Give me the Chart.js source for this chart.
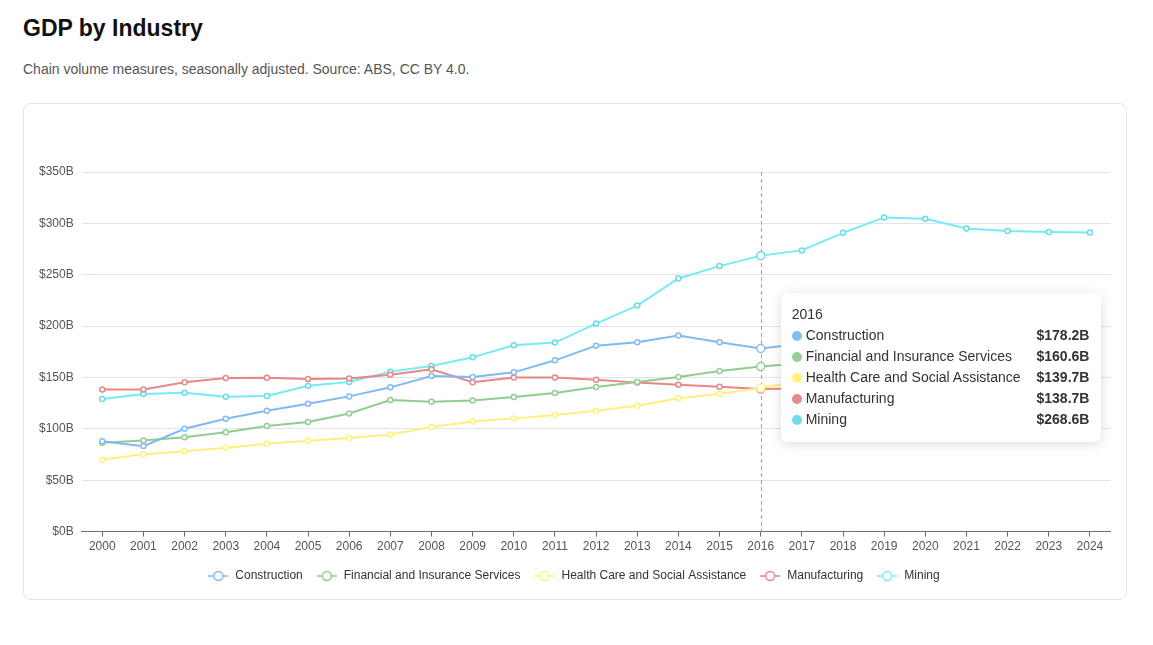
<!DOCTYPE html>
<html>
<head>
<meta charset="utf-8">
<title>GDP by Industry</title>
<script src="https://cdn.jsdelivr.net/npm/chart.js@4.4.1/dist/chart.umd.min.js"></script>
<style>
  body { margin: 0; padding: 0 23px; font-family: "Liberation Sans", Arial, Helvetica, sans-serif; color: #1a1a1a; background: #fff; }
  h1 { margin: 14px 0 0; font-size: 23px; line-height: 28px; font-weight: bold; color: #111; }
  .sub { margin: 19px 0 0; font-size: 14px; line-height: 16px; color: #555; }
  .card { margin-top: 26px; width: 1104px; height: 497px; box-sizing: border-box; border: 1px solid #e1e5ea; border-radius: 8px; padding: 16px; }
  .plot { position: relative; height: 472px; margin: 0 -6px 0 -9px; }
  #tip { position: absolute; display: none; background: #fff; border-radius: 6px; box-shadow: 0 2px 12px rgba(0,0,0,0.14); padding: 11px 12px 12px 11px; font-size: 14px; line-height: 21px; color: #333; pointer-events: none; white-space: nowrap; }
  #tip .t { color: #333; }
  #tip table { border-collapse: collapse; }
  #tip td { padding: 0; }
  #tip td.v { font-weight: bold; text-align: right; padding-left: 16px; }
  #tip .dot { display: inline-block; width: 10px; height: 10px; border-radius: 50%; margin-right: 4px; vertical-align: -1px; }
</style>
</head>
<body>
<h1>GDP by Industry</h1>
<p class="sub">Chain volume measures, seasonally adjusted. Source: ABS, CC BY 4.0.</p>
<div class="card">
  <div class="plot">
    <canvas id="gdpChart"></canvas>
    <div id="tip"></div>
  </div>
</div>
<script>
// values in $B (2017+ partly hidden under the tooltip, estimated)
const years = ['2000', '2001', '2002', '2003', '2004', '2005', '2006', '2007', '2008', '2009', '2010', '2011', '2012',
  '2013', '2014', '2015', '2016', '2017', '2018', '2019', '2020', '2021', '2022', '2023', '2024'];
const construction = [88.0, 83.2, 100.1, 109.9, 117.7, 124.5, 131.6, 140.4, 151.4, 150.4, 155.0, 166.7, 181.0,
  184.3, 190.8, 184.3, 178.2, 182.8, 189.5, 196.0, 193.1, 197.4, 201.8, 206.3, 210.5];
const financial = [86.5, 88.7, 91.9, 96.8, 102.7, 106.6, 115.0, 128.0, 126.4, 127.7, 130.9, 134.8, 140.7,
  145.6, 150.4, 156.3, 160.6, 163.9, 167.2, 171.8, 176.4, 178.9, 182.5, 185.1, 188.6];
const healthCare = [69.9, 75.4, 78.3, 81.6, 85.5, 88.4, 91.0, 94.6, 101.7, 107.2, 110.2, 113.4, 117.7,
  122.5, 129.7, 134.2, 139.7, 147.0, 154.3, 161.8, 166.5, 175.2, 186.9, 196.4, 203.8];
const manufacturing = [138.4, 138.4, 145.3, 149.5, 149.8, 148.5, 148.9, 152.7, 157.9, 145.3, 150.1, 150.1, 147.9,
  145.0, 143.0, 141.1, 138.7, 139.2, 140.6, 139.5, 136.1, 137.3, 138.8, 137.6, 137.9];
const mining = [129.0, 133.9, 135.2, 131.3, 131.9, 142.0, 145.6, 155.7, 161.2, 169.6, 181.3, 184.0, 202.5,
  220.0, 246.4, 258.4, 268.6, 273.7, 290.8, 305.8, 304.5, 295.1, 292.5, 291.5, 291.2];
const yTicks = [0, 50, 100, 150, 200, 250, 300, 350];

const seriesNames = ['Construction', 'Financial and Insurance Services', 'Health Care and Social Assistance', 'Manufacturing', 'Mining'];
const seriesData = [construction, financial, healthCare, manufacturing, mining];
const lineColors = ['#80b9f3', '#90cd8f', '#fff07e', '#e98686', '#74ebf7'];
const dotColors = ['#86bdf2', '#95cf94', '#fff283', '#e98a8a', '#6fdae8'];
const hoverYear = '2016';
const hoverValue = 160; // simulated pointer height

const fmt = v => '$' + Number(v).toFixed(1) + 'B';

// legend icon: short line with hollow circle
function legendIcon(color) {
  const c = document.createElement('canvas');
  c.width = 20; c.height = 12;
  const ctx = c.getContext('2d');
  ctx.strokeStyle = color;
  ctx.lineWidth = 1.5;
  ctx.beginPath(); ctx.moveTo(0, 6); ctx.lineTo(20, 6); ctx.stroke();
  ctx.fillStyle = '#fff';
  ctx.beginPath(); ctx.arc(10, 6, 4.5, 0, Math.PI * 2); ctx.fill(); ctx.stroke();
  return c;
}
const icons = lineColors.map(legendIcon);

const hoverLine = {
  id: 'hoverLine',
  beforeDatasetsDraw(chart) {
    const act = chart.getActiveElements();
    if (!act.length) return;
    const x = act[0].element.x;
    const { top, bottom } = chart.chartArea;
    const ctx = chart.ctx;
    ctx.save();
    ctx.strokeStyle = '#9aa3ad';
    ctx.lineWidth = 1;
    ctx.setLineDash([4, 3]);
    ctx.beginPath();
    ctx.moveTo(Math.round(x) + 0.5, top);
    ctx.lineTo(Math.round(x) + 0.5, bottom);
    ctx.stroke();
    ctx.restore();
  }
};

let pointerY = null;
function externalTip(context) {
  const { tooltip } = context;
  const el = document.getElementById('tip');
  if (tooltip.opacity === 0 || !tooltip.dataPoints || !tooltip.dataPoints.length) {
    el.style.display = 'none';
    return;
  }
  const rows = tooltip.dataPoints.map(dp =>
    `<tr><td><span class="dot" style="background:${dotColors[dp.datasetIndex]}"></span>${dp.dataset.label}</td><td class="v">${fmt(dp.raw)}</td></tr>`
  ).join('');
  el.innerHTML = `<div class="t">${tooltip.dataPoints[0].label}</div><table>${rows}</table>`;
  el.style.display = 'block';
  const y = pointerY != null ? pointerY : tooltip.caretY;
  el.style.left = (tooltip.caretX + 20) + 'px';
  el.style.top = (y - el.offsetHeight / 2) + 'px';
}

const chart = new Chart(document.getElementById('gdpChart'), {
  type: 'line',
  data: {
    labels: years,
    datasets: seriesNames.map((name, i) => ({
      label: name,
      data: seriesData[i],
      borderColor: lineColors[i],
      backgroundColor: lineColors[i],
      borderWidth: 2,
      tension: 0,
      pointRadius: 2.5,
      pointBorderWidth: 1.5,
      pointBackgroundColor: '#fff',
      pointBorderColor: dotColors[i],
      pointHoverRadius: 4,
      pointHoverBorderWidth: 1.5,
      pointHoverBackgroundColor: '#fff',
      pointHoverBorderColor: dotColors[i]
    }))
  },
  options: {
    responsive: true,
    maintainAspectRatio: false,
    animation: false,
    interaction: { mode: 'index', intersect: false },
    layout: { padding: { top: 52 } },
    scales: {
      x: {
        offset: true,
        grid: { display: true, drawOnChartArea: false, drawTicks: true, tickLength: 5, color: '#6b6f75' },
        border: { display: true, color: '#6b6f75' },
        ticks: { color: '#555', font: { size: 12 }, padding: 3, maxRotation: 0, autoSkip: false }
      },
      y: {
        min: 0,
        max: 350,
        afterBuildTicks: scale => { scale.ticks = yTicks.map(v => ({ value: v })); },
        grid: { color: '#dde4ee', drawTicks: false },
        border: { display: false },
        ticks: { color: '#555', font: { size: 12 }, padding: 8, callback: v => '$' + v + 'B' }
      }
    },
    plugins: {
      legend: {
        position: 'bottom',
        labels: {
          color: '#333',
          font: { size: 12 },
          usePointStyle: true,
          pointStyleWidth: 22,
          boxHeight: 12,
          padding: 13,
          generateLabels(ch) {
            const items = Chart.defaults.plugins.legend.labels.generateLabels(ch);
            items.forEach(it => { it.pointStyle = icons[it.datasetIndex]; });
            return items;
          }
        }
      },
      tooltip: { enabled: false, external: externalTip }
    }
  },
  plugins: [hoverLine]
});

// show the hover state for one year, as in the reference
const idx = years.indexOf(hoverYear);
const active = seriesNames.map((_, i) => ({ datasetIndex: i, index: idx }));
pointerY = chart.scales.y.getPixelForValue(hoverValue);
chart.setActiveElements(active);
chart.tooltip.setActiveElements(active, { x: chart.scales.x.getPixelForValue(idx), y: pointerY });
chart.update();
</script>
</body>
</html>
